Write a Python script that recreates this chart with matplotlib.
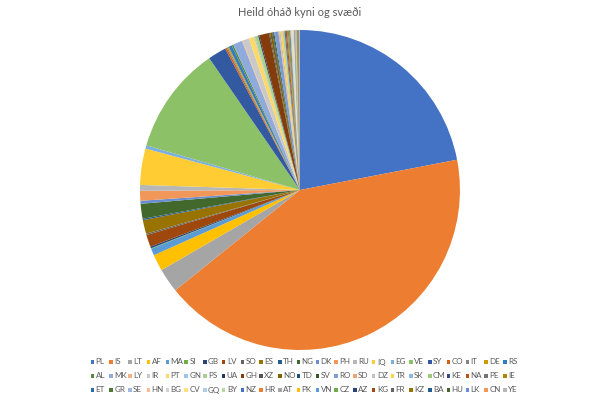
import colorsys
import matplotlib
matplotlib.use("Agg")
import matplotlib.pyplot as plt
from matplotlib.patches import Rectangle

plt.rcParams['font.family'] = ['Lato', 'DejaVu Sans']

title = "Heild óháð kyni og svæði"

countries = ["PL", "IS", "LT", "AF", "MA", "SI", "GB", "LV", "SO", "ES", "TH", "NG",
             "DK", "PH", "RU", "IQ", "EG", "VE", "SY", "CO", "IT", "DE", "RS", "AL",
             "MK", "LY", "IR", "PT", "GN", "PS", "UA", "GH", "XZ", "NO", "TD", "SV",
             "RO", "SD", "DZ", "TR", "SK", "CM", "KE", "NA", "PE", "IE", "ET", "GR",
             "SE", "HN", "BG", "CV", "GQ", "BY", "NZ", "HR", "AT", "PK", "VN", "CZ",
             "AZ", "KG", "FR", "KZ", "BA", "HU", "LK", "CN", "YE"]

# slice sizes (degrees of the circle)
values = [79.2, 152.3, 8.8, 6.0, 2.5, 0.2, 0.6, 4.4, 0.5, 5.0, 0.5, 5.4,
          1.1, 3.6, 2.1, 13.2, 1.2, 39.3, 6.7, 0.6, 0.4, 0.4, 1.2, 0.6,
          3.4, 0.3, 2.4, 1.9, 0.3, 1.2, 0.4, 3.6, 0.4, 0.8, 0.3, 0.4,
          1.5, 0.3, 0.5, 0.8, 0.3, 0.4, 0.3, 0.5, 0.3, 0.4, 0.2, 0.3,
          0.3, 0.2, 0.3, 0.2, 0.2, 0.2, 0.2, 0.2, 0.2, 0.2, 0.1, 0.2,
          0.1, 0.1, 0.2, 0.1, 0.1, 0.1, 0.1, 0.1, 0.1]

# office theme accents and the luminance variations Excel cycles through
accents = ["#4472C4", "#ED7D31", "#A5A5A5", "#FFC000", "#5B9BD5", "#70AD47"]
lum_steps = [(1.0, 0.0), (0.6, 0.0), (0.8, 0.2), (0.8, 0.0), (0.6, 0.4),
             (0.5, 0.0), (0.7, 0.3), (0.7, 0.0), (0.5, 0.5)]


def lum(hexcol, mod, off):
    r, g, b = matplotlib.colors.to_rgb(hexcol)
    h, l, s = colorsys.rgb_to_hls(r, g, b)
    l = min(1.0, l * mod + off)
    return colorsys.hls_to_rgb(h, l, s)


colors = []
for i in range(len(countries)):
    step = lum_steps[(i // 6) % len(lum_steps)]
    colors.append(lum(accents[i % 6], *step))

W, H = 600, 400
fig = plt.figure(figsize=(6, 4), dpi=100)
ax = fig.add_axes([0.2333, 0.125, 0.5333, 0.8])
ax.pie(values, colors=colors, startangle=90, counterclock=False,
       radius=1, wedgeprops=dict(linewidth=0))
ax.set_xlim(-1, 1)
ax.set_ylim(-1, 1)
ax.set_aspect('equal')
ax.axis('off')

fig.text(0.5, 0.968, title, ha='center', va='center', fontsize=8, color='#595959')

# legend: 23 entries per row, filled row by row like Excel does
ncol = 23
x0, dx = 90.5, 18.75
rows_y = [362, 376, 390]
sq = 3.6
for i, (name, c) in enumerate(zip(countries, colors)):
    r, j = divmod(i, ncol)
    x = x0 + j * dx
    y = rows_y[r]
    fig.add_artist(Rectangle((x / W, 1 - (y + sq / 2) / H), sq / W, sq / H,
                             transform=fig.transFigure, color=c, lw=0))
    fig.text((x + sq + 1.4) / W, 1 - y / H, name, ha='left', va='center',
             fontsize=5.8, color='#595959')

fig.savefig("out.png")
